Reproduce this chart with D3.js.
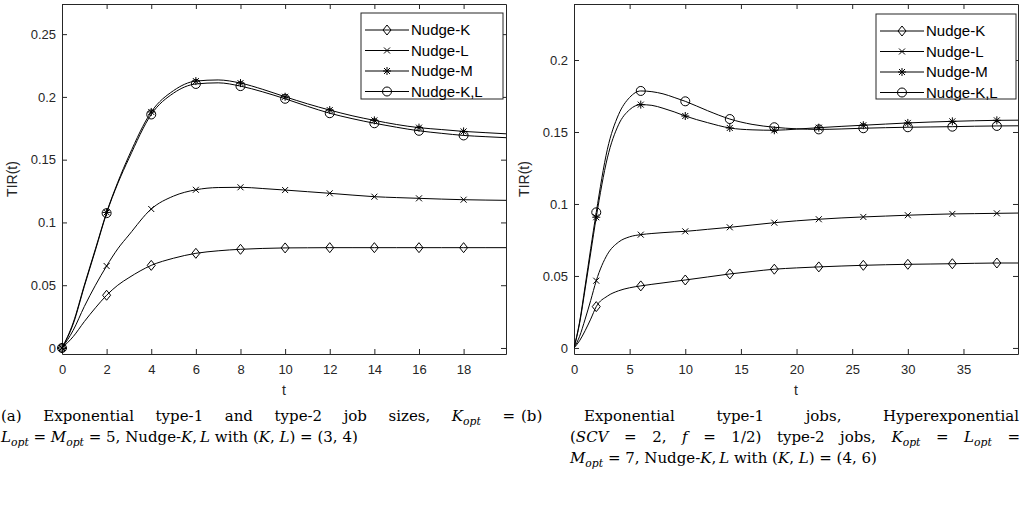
<!DOCTYPE html>
<html><head><meta charset="utf-8">
<script src="https://cdn.jsdelivr.net/npm/d3@7"></script>
<style>body{margin:0;background:#fff}svg{display:block}</style>
</head><body>
<svg id="c" width="1021" height="507"></svg>
<script>
// ---------- DATA ----------
const seriesNames = ["Nudge-K", "Nudge-L", "Nudge-M", "Nudge-K,L"];
const markerTypes = ["diamond", "x", "asterisk", "circle"];

// Panel (a)
const tA = [0,0.5,1,1.5,2,2.5,3,4,5,6,7,8,9,10,11,12,13,14,15,16,17,18,19,19.9];
const nudgeK_A  = [0,0.009,0.021,0.032,0.042,0.050,0.056,0.0658,0.0715,0.0754,0.0774,0.0786,0.0793,0.0797,0.0798,0.0799,0.0799,0.0799,0.0799,0.0799,0.0799,0.0799,0.0799,0.0799];
const nudgeL_A  = [0,0.014,0.033,0.050,0.0653,0.079,0.090,0.1107,0.121,0.126,0.1278,0.128,0.127,0.1258,0.1245,0.1232,0.1218,0.1205,0.1198,0.1192,0.1186,0.1181,0.1178,0.1176];
const nudgeM_A  = [0,0.020,0.050,0.079,0.108,0.132,0.153,0.188,0.205,0.2126,0.2135,0.211,0.206,0.2001,0.1945,0.1895,0.185,0.1813,0.178,0.1755,0.174,0.1725,0.1715,0.1706];
const nudgeKL_A = [0,0.019,0.049,0.078,0.1074,0.131,0.151,0.186,0.203,0.2103,0.2112,0.2086,0.204,0.1985,0.1925,0.187,0.1827,0.179,0.1758,0.173,0.171,0.1693,0.1683,0.1675];
const markerT_A = [0,2,4,6,8,10,12,14,16,18];
const xTicks_A = [0,2,4,6,8,10,12,14,16,18];
const yTicks_A = [0,0.05,0.1,0.15,0.2,0.25];
const yTickLabels_A = ["0","0.05","0.1","0.15","0.2","0.25"];

// Panel (b)
const tB = [0,0.5,1,1.5,2,3,4,5,6,7,8,9,10,12,14,16,18,20,22,24,26,28,30,32,34,36,38,39.9];
const nudgeK_B  = [0,0.005,0.012,0.020,0.0287,0.036,0.0397,0.0418,0.0431,0.0442,0.0452,0.0462,0.0472,0.0493,0.0514,0.0531,0.0547,0.0556,0.0563,0.0569,0.0574,0.0578,0.0581,0.0583,0.0585,0.0588,0.0590,0.0590];
const nudgeL_B  = [0,0.008,0.020,0.033,0.0467,0.065,0.0735,0.0772,0.0787,0.0795,0.0801,0.0806,0.0810,0.0824,0.0838,0.0854,0.0870,0.0883,0.0894,0.0903,0.0910,0.0916,0.0922,0.0927,0.0931,0.0933,0.0935,0.0937];
const nudgeM_B  = [0,0.017,0.041,0.066,0.0908,0.132,0.155,0.1655,0.169,0.1685,0.1665,0.164,0.1611,0.1565,0.1528,0.1515,0.1512,0.1520,0.1530,0.1539,0.1547,0.1555,0.1563,0.1569,0.1574,0.1578,0.1581,0.1582];
const nudgeKL_B = [0,0.018,0.043,0.069,0.0942,0.138,0.162,0.174,0.1785,0.178,0.1765,0.174,0.1713,0.1648,0.1590,0.1553,0.1533,0.1522,0.1518,0.1521,0.1526,0.1530,0.1533,0.1535,0.1537,0.1540,0.1542,0.1543];
const markerT_B = [2,6,10,14,18,22,26,30,34,38];
const xTicks_B = [0,5,10,15,20,25,30,35];
const yTicks_B = [0,0.05,0.1,0.15,0.2];
const yTickLabels_B = ["0","0.05","0.1","0.15","0.2"];

// ---------- DRAW ----------
const svg = d3.select("#c");
const AX = "#262626";
const SANS = "'Liberation Sans', Arial, Helvetica, sans-serif";
const SERIF = "'DejaVu Serif', 'Liberation Serif', serif";

function markerPath(type) {
  if (type === "diamond") return "M0,-5L4,0L0,5L-4,0Z";
  if (type === "x") return "M-3,-3L3,3M-3,3L3,-3";
  if (type === "asterisk") return "M-4,0L4,0M0,-4L0,4M-3,-3L3,3M-3,3L3,-3";
  return null;
}
function drawMarker(g, type, x, y) {
  if (type === "circle") {
    g.append("circle").attr("cx", x).attr("cy", y).attr("r", 4.5)
      .attr("fill", "none").attr("stroke", "#000").attr("stroke-width", 1);
  } else {
    g.append("path").attr("d", markerPath(type))
      .attr("transform", `translate(${x},${y})`)
      .attr("fill", "none").attr("stroke", "#000").attr("stroke-width", 1);
  }
}

function panel(cfg) {
  const x = d3.scaleLinear().domain(cfg.xDomain).range([cfg.left, cfg.right]);
  const y = d3.scaleLinear().domain(cfg.yDomain).range([cfg.bottom, cfg.top]);
  const g = svg.append("g");

  const fmtY = d => cfg.yLabels[cfg.yTicks.indexOf(d)];
  const gb = g.append("g").attr("transform", `translate(0,${cfg.bottom})`)
    .call(d3.axisBottom(x).tickValues(cfg.xTicks).tickSizeInner(-5).tickSizeOuter(0).tickPadding(11).tickFormat(d3.format("d")));
  const gt = g.append("g").attr("transform", `translate(0,${cfg.top})`)
    .call(d3.axisTop(x).tickValues(cfg.xTicks).tickSizeInner(-5).tickSizeOuter(0).tickFormat(""));
  const gl = g.append("g").attr("transform", `translate(${cfg.left},0)`)
    .call(d3.axisLeft(y).tickValues(cfg.yTicks).tickSizeInner(-5).tickSizeOuter(0).tickPadding(6).tickFormat(fmtY));
  const gr = g.append("g").attr("transform", `translate(${cfg.right},0)`)
    .call(d3.axisRight(y).tickValues(cfg.yTicks).tickSizeInner(-5).tickSizeOuter(0).tickFormat(""));
  [gb, gt, gl, gr].forEach(a => {
    a.selectAll("path.domain").attr("stroke", AX).attr("stroke-width", 1);
    a.selectAll(".tick line").attr("stroke", AX).attr("stroke-width", 1);
    a.selectAll(".tick text").attr("fill", AX).style("font-family", SANS).style("font-size", "13px");
  });
  g.append("text").attr("x", (cfg.left + cfg.right) / 2).attr("y", cfg.bottom + 41)
    .attr("text-anchor", "middle").attr("fill", AX)
    .style("font-family", SANS).style("font-size", "14px").text("t");
  g.append("text").attr("transform", `translate(${cfg.left - 45},${(cfg.top + cfg.bottom) / 2}) rotate(-90)`)
    .attr("text-anchor", "middle").attr("fill", AX)
    .style("font-family", SANS).style("font-size", "14px").text("TIR(t)");

  const clipId = "clip" + cfg.id;
  svg.append("clipPath").attr("id", clipId).append("rect")
    .attr("x", cfg.left).attr("y", cfg.top).attr("width", cfg.right - cfg.left).attr("height", cfg.bottom - cfg.top);
  const plot = g.append("g").attr("clip-path", `url(#${clipId})`);
  const line = d3.line().x(d => x(d[0])).y(d => y(d[1])).curve(d3.curveMonotoneX);
  cfg.series.forEach((vals) => {
    const pts = cfg.t.map((t, j) => [t, vals[j]]);
    plot.append("path").attr("d", line(pts)).attr("fill", "none")
      .attr("stroke", "#000").attr("stroke-width", 1);
  });
  const mg = g.append("g");
  cfg.series.forEach((vals, i) => {
    cfg.t.forEach((t, j) => {
      if (cfg.markerT.includes(t)) drawMarker(mg, markerTypes[i], x(t), y(vals[j]));
    });
  });

  const L = cfg.legend;
  const lg = g.append("g");
  lg.append("rect").attr("x", L.x).attr("y", L.y).attr("width", L.w).attr("height", L.h)
    .attr("fill", "#fff").attr("stroke", AX).attr("stroke-width", 1);
  seriesNames.forEach((name, i) => {
    const ry = L.y + 17 + i * 20.5;
    lg.append("line").attr("x1", L.x + 4).attr("x2", L.x + 48).attr("y1", ry).attr("y2", ry)
      .attr("stroke", "#000").attr("stroke-width", 1);
    drawMarker(lg, markerTypes[i], L.x + 26, ry);
    lg.append("text").attr("x", L.x + 50).attr("y", ry).attr("dy", "0.35em")
      .style("font-family", SANS).style("font-size", "15px").attr("fill", "#000").text(name);
  });
}

panel({
  id: "A", left: 62, right: 506, top: 4, bottom: 354,
  xDomain: [0, 19.9], yDomain: [-0.0048, 0.274],
  xTicks: xTicks_A, yTicks: yTicks_A, yLabels: yTickLabels_A,
  t: tA, series: [nudgeK_A, nudgeL_A, nudgeM_A, nudgeKL_A], markerT: markerT_A,
  legend: {x: 361, y: 13, w: 142, h: 86}
});
panel({
  id: "B", left: 574, right: 1018, top: 4, bottom: 354,
  xDomain: [0, 39.9], yDomain: [-0.0042, 0.2389],
  xTicks: xTicks_B, yTicks: yTicks_B, yLabels: yTickLabels_B,
  t: tB, series: [nudgeK_B, nudgeL_B, nudgeM_B, nudgeKL_B], markerT: markerT_B,
  legend: {x: 876, y: 14, w: 140, h: 85}
});

// ---------- CAPTIONS ----------
const CAP_SIZE = 15;
const cap = svg.append("g").style("font-family", SERIF).style("font-size", CAP_SIZE + "px").attr("fill", "#000");

function addRuns(textSel, runs) {
  let shifted = false;
  runs.forEach(([s, st]) => {
    const ts = textSel.append("tspan").text(s);
    if (st === "i") ts.style("font-style", "italic");
    if (st === "sub") {
      ts.style("font-style", "italic").style("font-size", "0.72em");
      if (!shifted) { ts.attr("dy", "4"); shifted = true; }
    } else if (shifted) { ts.attr("dy", "-4"); shifted = false; }
  });
}
function lineTokens(x0, x1, yb, tokens) {
  const els = tokens.map(tok => {
    const t = cap.append("text").attr("y", yb);
    addRuns(t, tok);
    return t;
  });
  const widths = els.map(e => e.node().getComputedTextLength());
  const total = d3.sum(widths);
  const gap = (x1 - x0 - total) / (tokens.length - 1);
  let cx = x0;
  els.forEach((e, i) => { e.attr("x", cx); cx += widths[i] + gap; });
}
function lineNatural(x0, yb, runs) {
  const t = cap.append("text").attr("x", x0).attr("y", yb);
  addRuns(t, runs);
}

const W = s => [[s, ""]];
const Kopt = [["K", "i"], ["opt", "sub"]];
const Lopt = [["L", "i"], ["opt", "sub"]];

const y1 = 421, y2 = 442, y3 = 463;
lineTokens(1, 515, y1, [W("(a)"), W("Exponential"), W("type-1"), W("and"), W("type-2"), W("job"), W("sizes,"), Kopt, W("=")]);
lineNatural(1, y2, [["L","i"],["opt","sub"],[" = ",""],["M","i"],["opt","sub"],[" = 5, Nudge-",""],["K","i"],[",\u2009",""],["L","i"],[" with (",""],["K","i"],[", ",""],["L","i"],[") = (3, 4)",""]]);

const ind = 570;
lineTokens(521, 1019, y1, [W("(b)"), W("Exponential"), W("type-1"), W("jobs,"), W("Hyperexponential")]);
lineTokens(ind, 1020, y2, [[["(",""],["SCV","i"]], W("="), W("2,"), [["f","i"]], W("="), W("1/2)"), W("type-2"), W("jobs,"), Kopt, W("="), Lopt, W("=")]);
lineNatural(ind, y3, [["M","i"],["opt","sub"],[" = 7, Nudge-",""],["K","i"],[",\u2009",""],["L","i"],[" with (",""],["K","i"],[", ",""],["L","i"],[") = (4, 6)",""]]);
</script>
</body></html>
